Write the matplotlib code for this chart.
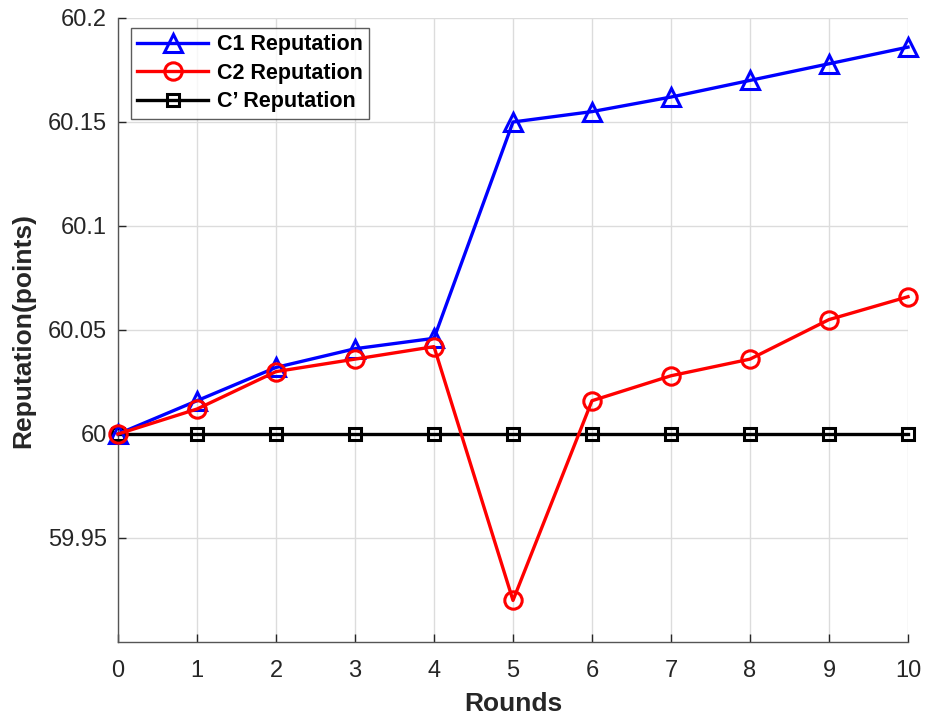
import matplotlib
matplotlib.use("Agg")
import matplotlib.pyplot as plt

rounds = [0, 1, 2, 3, 4, 5, 6, 7, 8, 9, 10]
c1 = [60.0, 60.016, 60.032, 60.041, 60.046, 60.150, 60.155, 60.162, 60.170, 60.178, 60.186]
c2 = [60.0, 60.012, 60.030, 60.036, 60.042, 59.920, 60.016, 60.028, 60.036, 60.055, 60.066]
cp = [60.0] * 11
yticks = [59.95, 60.0, 60.05, 60.1, 60.15, 60.2]
ytick_labels = ["59.95", "60", "60.05", "60.1", "60.15", "60.2"]

plt.rcParams['font.family'] = ['Liberation Sans', 'DejaVu Sans']

fig = plt.figure(figsize=(9.26, 7.2), dpi=100)
ax = fig.add_axes([118/926, 1-642/720, (908-118)/926, (642-18)/720])

ax.plot(rounds, c1, color='#0000ff', lw=2.4, marker='^', ms=13, mfc='none', mew=2.2,
        label='C1 Reputation', zorder=4, clip_on=False)
ax.plot(rounds, c2, color='#ff0000', lw=2.4, marker='o', ms=12.5, mfc='none', mew=2.2,
        label='C2 Reputation', zorder=5, clip_on=False)
ax.plot(rounds, cp, color='#000000', lw=2.4, marker='s', ms=8.5, mfc='none', mew=2.2,
        label='C’ Reputation', zorder=3, clip_on=False)

ax.set_xlim(0, 10)
ax.set_ylim(59.9, 60.2)
ax.set_xticks(rounds)
ax.set_yticks(yticks)
ax.set_yticklabels(ytick_labels)
ax.grid(True, color='#dcdcdc', lw=1.0)
ax.set_axisbelow(True)
for s in ['top', 'right']:
    ax.spines[s].set_visible(False)
for s in ['left', 'bottom']:
    ax.spines[s].set_color('#555555')
    ax.spines[s].set_linewidth(1.0)
ax.tick_params(axis='both', labelsize=17, colors='#262626', direction='in', length=6, width=1)
ax.tick_params(axis='y', pad=8)
ax.tick_params(axis='x', pad=13)
ax.set_xlabel('Rounds', fontsize=19, fontweight='bold', color='#262626', labelpad=7)
ax.set_ylabel('Reputation(points)', fontsize=19, fontweight='bold', color='#262626', labelpad=9)

leg = ax.legend(loc='upper left', bbox_to_anchor=(0.008, 0.995), prop={'weight': 'bold', 'size': 15.5},
                frameon=True, fancybox=False, edgecolor='#333333', handlelength=3.3,
                borderpad=0.3, labelspacing=0.35, handletextpad=0.4, borderaxespad=0.3)
leg.get_frame().set_linewidth(1.0)

fig.savefig('out.png', dpi=100)
